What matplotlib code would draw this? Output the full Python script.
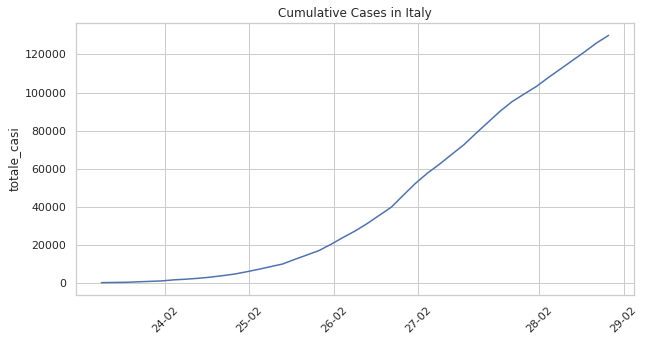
import datetime as dt
import matplotlib
matplotlib.use("Agg")
import matplotlib.pyplot as plt
import seaborn as sns

# dati: casi totali in Italia (rilevazione delle 18:00)
start = dt.datetime(2020, 2, 24, 18, 0)
totale_casi = [229, 322, 400, 650, 888, 1128, 1694, 2036, 2502, 3089,
               3858, 4700, 5900, 7200, 8600, 10000, 12400, 14700, 17000, 20300,
               23900, 27300, 31200, 35500, 39800, 46100, 52300, 57700, 62400, 67500,
               72500, 78500, 84300, 90100, 95200, 99200, 103100, 107800, 112300, 116800,
               121300, 126000, 130000]
date = [start + dt.timedelta(days=i) for i in range(len(totale_casi))]

# posizioni dei tick e relative etichette
tick_dates = [dt.datetime(2020, 3, 1), dt.datetime(2020, 3, 8), dt.datetime(2020, 3, 15),
              dt.datetime(2020, 3, 22), dt.datetime(2020, 4, 1), dt.datetime(2020, 4, 8)]
tick_labels = ["24-02", "25-02", "26-02", "27-02", "28-02", "29-02"]

sns.set_theme(style="whitegrid")

fig = plt.figure(figsize=(645 / 72, 341 / 72), dpi=72)
ax = fig.add_axes([76 / 645, 1 - 295 / 341, (634 - 76) / 645, (295 - 23) / 341])
ax.plot(date, totale_casi, color="#4c72b0", lw=1.5)
ax.set_xticks(tick_dates)
ax.set_xticklabels(tick_labels, rotation=45)
ax.set_ylabel("totale_casi")
ax.set_title("Cumulative Cases in Italy")

plt.savefig("out.png", dpi=72)
